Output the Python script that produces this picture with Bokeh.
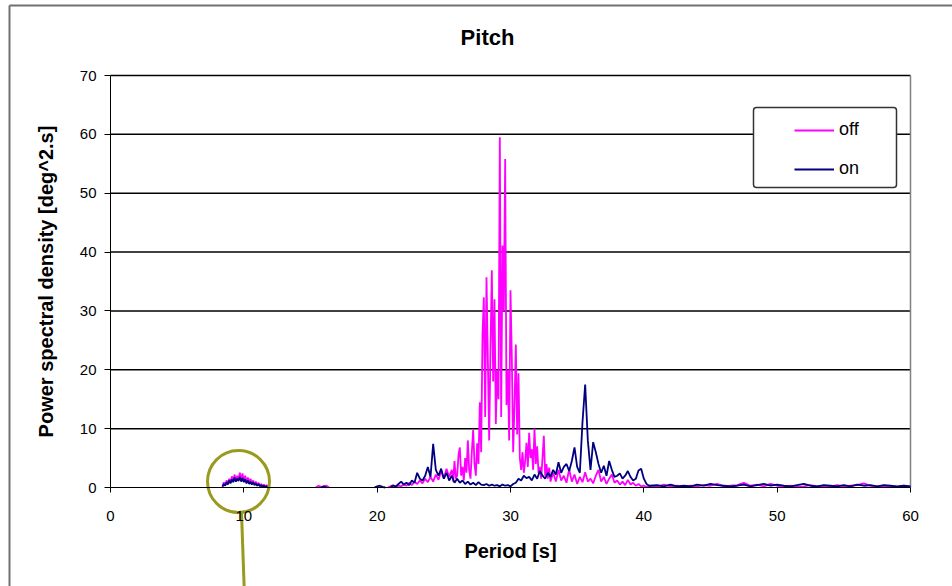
import numpy as np
from bokeh.plotting import figure
from bokeh.models import (Range1d, Label, BoxAnnotation, Legend, LegendItem, FixedTicker)
from bokeh.embed import file_html
from bokeh.resources import INLINE

title_text = "Pitch"
x_label = "Period [s]"
y_label = "Power spectral density [deg^2.s]"
x_ticks = [0, 10, 20, 30, 40, 50, 60]
y_ticks = [0, 10, 20, 30, 40, 50, 60, 70]

# ---- "off" series (None = gap in the line) ----
off_period = [
    8.4, 8.5, 8.6, 8.7, 8.8, 8.9, 9.0, 9.1, 9.2, 9.3, 9.4, 9.5, 9.6, 9.7, 9.8, 9.9,
    10.0, 10.1, 10.2, 10.3, 10.4, 10.5, 10.6, 10.7, 10.8, 10.9,
    11.0, 11.1, 11.2, 11.3, 11.4, 11.5, 11.6, 11.7, 11.8, 12.0,
    15.4, 15.6, 15.8, 16.0, 16.2, 16.4, 16.6,
    20.8, 21.0, 21.2, 21.4, 21.6, 21.8, 22.0, 22.2, 22.4, 22.6, 22.8, 23.0, 23.2, 23.4, 23.6, 23.8,
    24.0, 24.2, 24.4, 24.6, 24.8, 25.0, 25.2, 25.4,
    25.6, 25.7, 25.8, 25.9, 26.0, 26.1, 26.2, 26.3, 26.4, 26.5, 26.6, 26.7, 26.8, 26.9,
    27.0, 27.1, 27.2, 27.3, 27.4, 27.5, 27.6, 27.7, 27.8, 27.9,
    28.0, 28.1, 28.2, 28.3, 28.4, 28.5, 28.6, 28.7, 28.8, 28.9,
    29.0, 29.1, 29.2, 29.3, 29.4, 29.5, 29.6, 29.7, 29.8, 29.9,
    30.0, 30.1, 30.2, 30.3, 30.4, 30.5, 30.6, 30.7, 30.8, 30.9,
    31.0, 31.1, 31.2, 31.3, 31.4, 31.5, 31.6, 31.7, 31.8, 31.9,
    32.0, 32.1, 32.2, 32.3, 32.4, 32.5, 32.6, 32.7, 32.8, 32.9, 33.0,
    33.2, 33.4, 33.6, 33.8, 34.0, 34.2, 34.4, 34.6, 34.8, 35.0, 35.2, 35.4, 35.6, 35.8,
    36.0, 36.2, 36.4, 36.6, 36.8, 37.0, 37.2, 37.4, 37.6, 37.8, 38.0, 38.2, 38.4, 38.6, 38.8,
    39.0, 39.2, 39.4, 39.6, 39.8, 40.0, 40.2,
    40.5, 41.0, 41.5, 42.0, 42.5, 43.0, 43.5, 44.0, 44.5, 45.0, 45.5, 46.0, 46.5, 47.0, 47.5,
    48.0, 48.5, 49.0, 49.5, 50.0, 50.5, 51.0, 51.5, 52.0, 52.5, 53.0, 53.5, 54.0, 54.5, 55.0,
    55.5, 56.0, 56.5, 57.0, 57.5, 58.0, 58.5, 59.0, 59.5, 60.0,
]
off_psd = [
    0.2, 0.9, 0.3, 1.2, 0.6, 1.5, 0.8, 1.9, 1.0, 2.2, 1.2, 2.0, 1.4, 2.5, 1.3, 2.4,
    1.1, 2.0, 0.9, 1.7, 0.8, 1.5, 0.6, 1.2, 0.5, 1.0,
    0.4, 0.8, 0.3, 0.6, 0.2, 0.5, 0.2, 0.4, 0.1, None,
    0.0, 0.3, 0.1, 0.2, 0.3, 0.0, None,
    0.0, 0.2, 0.4, 0.1, 0.3, 0.2, 0.5, 0.3, 0.8, 0.4, 1.0, 0.6, 1.2, 0.7, 1.5, 0.9,
    1.8, 1.0, 2.2, 1.3, 2.8, 1.5, 3.2, 1.8,
    3.0, 1.0, 4.5, 1.5, 2.0, 5.5, 6.8, 2.0, 3.5, 1.2, 5.0, 2.5, 8.0, 3.0,
    1.5, 6.0, 9.8, 4.0, 2.0, 7.5, 4.0, 14.5, 6.0, 26.0,
    32.3, 12.0, 35.7, 22.0, 8.0, 23.8, 36.9, 18.0, 32.0, 10.8,
    20.0, 15.0, 59.5, 12.0, 41.1, 30.0, 55.8, 14.0, 20.0, 8.0,
    33.5, 22.0, 6.0, 14.0, 24.3, 9.0, 19.4, 5.0, 3.0, 6.0,
    2.5, 4.5, 7.6, 3.5, 9.3, 5.0, 6.5, 3.0, 10.0, 4.0,
    7.0, 2.5, 3.5, 1.5, 5.0, 8.8, 2.0, 4.0, 1.5, 3.4, 1.0,
    2.5, 1.0, 3.0, 1.2, 2.0, 0.8, 3.1, 1.0, 2.2, 0.6, 1.8, 0.9, 2.6, 1.0,
    1.5, 0.7, 2.0, 3.0, 1.0, 1.8, 0.6, 1.5, 2.2, 0.8, 1.2, 0.5, 1.0, 0.4, 1.3,
    0.5, 0.8, 0.3, 0.6, 0.2, 0.3, 0.1,
    0.2, 0.1, 0.5, 0.2, 0.3, 0.1, 0.3, 0.2, 0.4, 0.3, 0.6, 0.2, 0.3, 0.4, 0.8,
    0.3, 0.5, 0.2, 0.6, 0.3, 0.2, 0.3, 0.1, 0.2, 0.4, 0.2, 0.3, 0.2, 0.4, 0.2,
    0.3, 0.4, 0.7, 0.3, 0.2, 0.3, 0.2, 0.1, 0.3, 0.1,
]

# ---- "on" series ----
on_period = [
    8.4, 8.5, 8.6, 8.7, 8.8, 8.9, 9.0, 9.1, 9.2, 9.3, 9.4, 9.5, 9.6, 9.7, 9.8, 9.9,
    10.0, 10.1, 10.2, 10.3, 10.4, 10.5, 10.6, 10.7, 10.8, 10.9,
    11.0, 11.1, 11.2, 11.3, 11.4, 11.5, 11.6, 11.7, 11.8, 12.0,
    15.8, 16.0, 16.2, 16.4,
    19.8, 20.0, 20.2, 20.4, 20.6, 20.8,
    21.0, 21.2, 21.4, 21.6, 21.8, 22.0, 22.2, 22.4, 22.6, 22.8, 23.0, 23.2, 23.4, 23.6, 23.8,
    24.0, 24.2, 24.4, 24.6, 24.8, 25.0, 25.2, 25.4, 25.6, 25.8, 26.0, 26.2, 26.4, 26.6, 26.8,
    27.0, 27.2, 27.4, 27.6, 27.8, 28.0, 28.2, 28.4, 28.6, 28.8, 29.0, 29.2, 29.4, 29.6, 29.8,
    30.0, 30.2, 30.4, 30.6, 30.8, 31.0, 31.2, 31.4, 31.6, 31.8, 32.0, 32.2, 32.4, 32.6, 32.8,
    33.0, 33.2, 33.4, 33.6, 33.8, 34.0, 34.2, 34.4, 34.6, 34.8, 35.0, 35.2, 35.4, 35.6, 35.8,
    36.0, 36.2, 36.4, 36.6, 36.8, 37.0, 37.2, 37.4, 37.6, 37.8, 38.0, 38.2, 38.4, 38.6, 38.8,
    39.0, 39.2, 39.4, 39.6, 39.8, 40.0, 40.2, 40.4,
    41.0, 41.5, 42.0, 42.5, 43.0, 43.5, 44.0, 44.5, 45.0, 45.5, 46.0, 46.5, 47.0, 47.5,
    48.0, 48.5, 49.0, 49.5, 50.0, 50.5, 51.0, 51.5, 52.0, 52.5, 53.0, 53.5, 54.0, 54.5, 55.0,
    55.5, 56.0, 56.5, 57.0, 57.5, 58.0, 58.5, 59.0, 59.5, 60.0,
]
on_psd = [
    0.1, 0.6, 0.3, 0.9, 0.5, 1.2, 0.7, 1.4, 0.9, 1.7, 1.0, 1.5, 1.1, 1.8, 1.0, 1.6,
    0.9, 1.4, 0.7, 1.2, 0.6, 1.0, 0.5, 0.9, 0.4, 0.7,
    0.3, 0.6, 0.2, 0.4, 0.1, 0.3, 0.1, 0.2, 0.1, None,
    0.0, 0.2, 0.0, None,
    0.0, 0.2, 0.3, 0.1, 0.0, None,
    0.1, 0.3, 0.2, 0.6, 1.0, 0.5, 0.8, 0.4, 1.2, 0.8, 2.5, 1.5, 1.2, 2.0, 3.5,
    1.8, 7.4, 3.0, 2.0, 3.2, 1.5, 2.5, 1.2, 2.0, 0.8, 1.5, 0.8, 1.2, 0.6, 1.0,
    0.5, 0.8, 0.4, 0.9, 0.5, 0.4, 0.6, 0.3, 0.5, 0.3, 0.4, 0.2, 0.5, 0.3, 0.4,
    0.2, 0.6, 0.8, 1.5, 1.2, 2.0, 1.6, 1.8, 1.2, 2.2, 1.5, 2.8, 2.0, 1.5, 2.5,
    1.8, 3.0, 2.2, 4.3, 2.5, 3.5, 4.0, 2.8, 4.5, 6.8, 3.5, 2.5, 11.1, 17.5, 8.0,
    3.0, 7.7, 6.0, 4.0, 2.5, 3.7, 2.0, 4.5, 3.0, 1.8, 2.0, 2.4, 1.5, 2.0, 2.8,
    1.8, 1.2, 1.5, 2.9, 3.2, 1.5, 0.6, 0.3,
    0.4, 0.2, 0.5, 0.2, 0.3, 0.2, 0.5, 0.3, 0.6, 0.4, 0.3, 0.2, 0.3, 0.5,
    0.2, 0.4, 0.6, 0.3, 0.5, 0.3, 0.2, 0.4, 0.6, 0.3, 0.2, 0.4, 0.3, 0.2, 0.4,
    0.2, 0.5, 0.3, 0.4, 0.2, 0.4, 0.3, 0.2, 0.3, 0.2,
]

OFF_COLOR = "#FF00FF"
ON_COLOR = "#000080"
OLIVE = "#9a9a1e"
FONT = "Liberation Sans"

W, H = 952, 586
FL, FR, FT, FB = 110, 910, 75, 487   # where the data area sits, in pixels


def sx(px):
    return x_ticks[0] + (px - FL) * (x_ticks[-1] - x_ticks[0]) / (FR - FL)


def sy(py):
    return y_ticks[0] + (FB - py) * (y_ticks[-1] - y_ticks[0]) / (FB - FT)


# the frame covers the whole canvas; axes are pinned at x=0 / y=0
p = figure(width=W, height=H, x_range=Range1d(sx(0), sx(W)), y_range=Range1d(sy(H), sy(0)),
           output_backend="svg", toolbar_location=None,
           min_border=0, min_border_left=0, min_border_right=0,
           min_border_top=0, min_border_bottom=0)
p.background_fill_color = "white"
p.border_fill_color = "white"
p.outline_line_color = None
p.xgrid.grid_line_color = None
p.ygrid.grid_line_color = None

# axes
for ax in (p.xaxis, p.yaxis):
    ax.axis_line_color = "#000000"
    ax.major_tick_line_color = "#000000"
    ax.minor_tick_line_color = None
    ax.major_tick_in = 0
    ax.major_label_text_font = FONT
    ax.major_label_text_font_size = "15px"
    ax.major_label_text_color = "#000000"
    ax.axis_label_text_font = FONT
    ax.axis_label_text_font_size = "20px"
    ax.axis_label_text_font_style = "bold"
    ax.axis_label_text_color = "#000000"
p.xaxis.ticker = FixedTicker(ticks=x_ticks)
p.yaxis.ticker = FixedTicker(ticks=y_ticks)
p.xaxis.bounds = (x_ticks[0], x_ticks[-1])
p.yaxis.bounds = (y_ticks[0], y_ticks[-1])
p.xaxis.fixed_location = y_ticks[0]
p.yaxis.fixed_location = x_ticks[0]
p.xaxis.major_tick_out = 5
p.yaxis.major_tick_out = 6
p.xaxis.major_label_standoff = 18
p.yaxis.major_label_standoff = 8
p.xaxis.axis_label = x_label
p.yaxis.axis_label = y_label
p.xaxis.axis_label_standoff = 16
p.yaxis.axis_label_standoff = 20

# horizontal grid lines and right frame edge
p.segment(x0=x_ticks[0], x1=x_ticks[-1], y0=y_ticks[1:], y1=y_ticks[1:],
          line_color="#000000", line_width=1.5)
p.segment(x0=[x_ticks[-1]], x1=[x_ticks[-1]], y0=[y_ticks[0]], y1=[y_ticks[-1]],
          line_color="#808080", line_width=1.5)

# data
r_off = p.line(off_period, np.array(off_psd, dtype=float), line_color=OFF_COLOR, line_width=1.8)
r_on = p.line(on_period, np.array(on_psd, dtype=float), line_color=ON_COLOR, line_width=1.8)

# legend box + legend
box = BoxAnnotation(left=sx(753), right=sx(896), top=sy(107), bottom=sy(187),
                    fill_color="white", fill_alpha=1.0, line_color="#333333",
                    line_alpha=1.0, line_width=1.5, border_radius=3)
p.add_layout(box)
legend = Legend(items=[LegendItem(label="off", renderers=[r_off]),
                       LegendItem(label="on", renderers=[r_on])],
                location=(794, 407), padding=0, spacing=18, margin=0,
                glyph_width=40, glyph_height=20, label_height=20, label_standoff=5,
                background_fill_alpha=0, border_line_alpha=0,
                label_text_font=FONT, label_text_font_size="18px",
                label_text_color="#000000")
p.add_layout(legend)

# title
p.add_layout(Label(x=sx(487), y=sy(37), text=title_text, text_align="center",
                   text_baseline="middle", text_font=FONT, text_font_size="22px",
                   text_font_style="bold", text_color="#000000"))

# chart-area border (left and top edges)
p.segment(x0=[sx(9), sx(9)], x1=[sx(9), sx(W + 10)], y0=[sy(H + 10), sy(5)], y1=[sy(5), sy(5)],
          line_color="#707070", line_width=2)

# olive highlight circle with stem
p.scatter(x=[sx(238)], y=[sy(481)], size=62, marker="circle", fill_color=None,
          line_color=OLIVE, line_width=3)
p.segment(x0=[sx(241)], x1=[sx(244)], y0=[sy(512)], y1=[sy(H + 10)],
          line_color=OLIVE, line_width=3)

open("out.html", "w").write(file_html(p, INLINE))
